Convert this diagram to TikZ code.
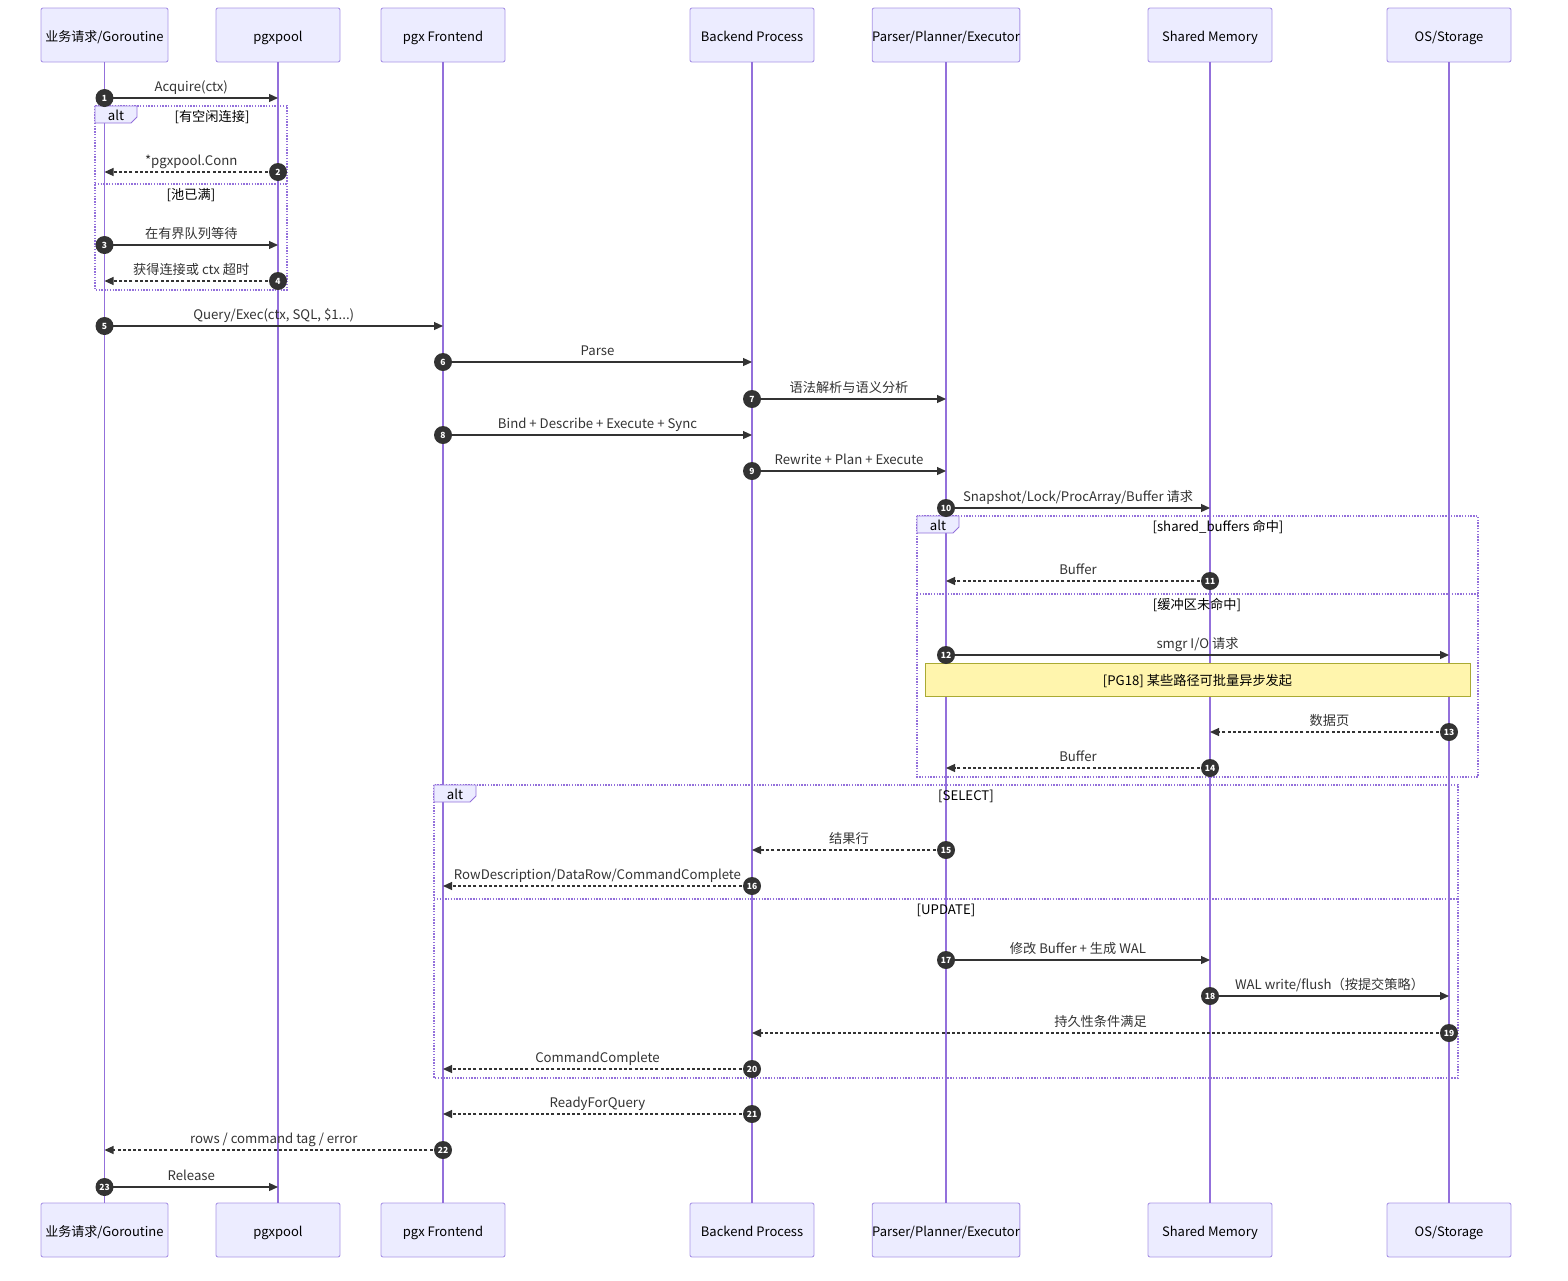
\documentclass[tikz,border=0pt]{standalone}
\usepackage{fontspec}
\setmainfont{Noto Sans CJK SC}
\usetikzlibrary{arrows.meta,calc}
\definecolor{actfill}{HTML}{ECECFF}
\definecolor{actborder}{HTML}{A995E6}
\definecolor{lifecol}{HTML}{9370DB}
\definecolor{msgcol}{HTML}{333333}
\definecolor{notefill}{HTML}{FFF5AD}
\definecolor{noteborder}{HTML}{AAAA33}
\tikzset{
  actor/.style={draw=actborder, fill=actfill, rounded corners=2pt, line width=0.9pt,
    minimum height=54pt, inner sep=0pt, font=\fontsize{13}{15}\selectfont, text=black,
    text height=15pt, text depth=1.5pt},
  life/.style={draw=lifecol, line width=1.3pt},
  msg/.style={draw=msgcol, line width=1.2pt, -{Triangle[length=9pt,width=8pt]}},
  dsh/.style={dash pattern=on 3pt off 2.2pt},
  sld/.style={},
  lbl/.style={font=\fontsize{13.2}{15}\selectfont, text=msgcol, inner sep=0pt, text height=12pt, text depth=2pt},
  seclbl/.style={font=\fontsize{13.2}{15}\selectfont, text=black, inner sep=0pt, text height=12pt, text depth=2pt},
  num/.style={circle, fill=msgcol, text=white, font=\fontsize{8.5}{9}\selectfont\bfseries, minimum size=18pt, inner sep=0pt},
  frame/.style={draw=lifecol, line width=1.2pt, dash pattern=on 1.4pt off 1.4pt},
  tab/.style={draw=lifecol, fill=actfill, line width=0.8pt},
  note/.style={draw=noteborder, fill=notefill, line width=0.8pt, minimum width=545pt, minimum height=33pt,
    inner sep=0pt, font=\fontsize{13.2}{15}\selectfont, text=black, text height=13pt, text depth=1.5pt},
}
\newcommand\msgline[6]{%
  \coordinate (s#5) at (#1 |- 0,#3);
  \coordinate (e#5) at (#2 |- 0,#3);
  \draw[msg,#6] (s#5) -- (e#5) node[lbl,midway,yshift=12pt] (l#5) {#4};
  \node[num] (n#5) at (s#5) {#5};
}
\begin{document}
\begin{tikzpicture}[x=1pt,y=-1pt]
\useasboundingbox (0,0) rectangle (1568,1280);
% actors top
\node[actor, minimum width=127pt] (a1) at (104.5,35) {业务请求/Goroutine};
\node[actor, minimum width=124pt] (a2) at (278,35) {pgxpool};
\node[actor, minimum width=124pt] (a3) at (443,35) {pgx Frontend};
\node[actor, minimum width=124pt] (a4) at (752,35) {Backend Process};
\node[actor, minimum width=146pt] (a5) at (946,35) {Parser/Planner/Executor};
\node[actor, minimum width=124pt] (a6) at (1210,35) {Shared Memory};
\node[actor, minimum width=124pt] (a7) at (1449,35) {OS/Storage};
% actors bottom
\node[actor, minimum width=127pt] (b1) at (104.5,1230) {业务请求/Goroutine};
\node[actor, minimum width=124pt] (b2) at (278,1230) {pgxpool};
\node[actor, minimum width=124pt] (b3) at (443,1230) {pgx Frontend};
\node[actor, minimum width=124pt] (b4) at (752,1230) {Backend Process};
\node[actor, minimum width=146pt] (b5) at (946,1230) {Parser/Planner/Executor};
\node[actor, minimum width=124pt] (b6) at (1210,1230) {Shared Memory};
\node[actor, minimum width=124pt] (b7) at (1449,1230) {OS/Storage};
% lifelines
\foreach \i in {1,...,7} { \draw[life] (a\i.south) -- (b\i.north); }
% alt frame 1
\draw[frame] (95,106) rectangle (287,290);
\draw[frame] (95,184) -- (287,184);
\draw[tab] (95,106) -- (137,106) -- (137,117) -- (131,123) -- (95,123) -- cycle;
\node[seclbl] (t1) at (116,115) {alt};
\node[seclbl] (c1a) at (212,116) {[有空闲连接]};
\node[seclbl] (c1b) at (191,194) {[池已满]};
% alt frame 2
\draw[frame] (917,516) rectangle (1478,777);
\draw[frame] (917,594) -- (1478,594);
\draw[tab] (917,516) -- (959,516) -- (959,527) -- (953,533) -- (917,533) -- cycle;
\node[seclbl] (t2) at (938,525) {alt};
\node[seclbl] (c2a) at (1218,526) {[shared\_buffers 命中]};
\node[seclbl] (c2b) at (1197,604) {[缓冲区未命中]};
% alt frame 3
\draw[frame] (434,785) rectangle (1458,1078);
\draw[frame] (434,899) -- (1458,899);
\draw[tab] (434,785) -- (476,785) -- (476,796) -- (470,802) -- (434,802) -- cycle;
\node[seclbl] (t3) at (455,794) {alt};
\node[seclbl] (c3a) at (966,795) {[SELECT]};
\node[seclbl] (c3b) at (946,909) {[UPDATE]};
% note
\node[note] (note1) at (1197.5,679.5) {[PG18] 某些路径可批量异步发起};
% messages
\msgline{a1}{a2}{98}{Acquire(ctx)}{1}{sld}
\msgline{a2}{a1}{172}{*pgxpool.Conn}{2}{dsh}
\msgline{a1}{a2}{245}{在有界队列等待}{3}{sld}
\msgline{a2}{a1}{281}{获得连接或 ctx 超时}{4}{dsh}
\msgline{a1}{a3}{326}{Query/Exec(ctx, SQL, \$1...)}{5}{sld}
\msgline{a3}{a4}{362}{Parse}{6}{sld}
\msgline{a4}{a5}{399}{语法解析与语义分析}{7}{sld}
\msgline{a3}{a4}{435}{Bind + Describe + Execute + Sync}{8}{sld}
\msgline{a4}{a5}{471}{Rewrite + Plan + Execute}{9}{sld}
\msgline{a5}{a6}{508}{Snapshot/Lock/ProcArray/Buffer 请求}{10}{sld}
\msgline{a6}{a5}{581}{Buffer}{11}{dsh}
\msgline{a5}{a7}{655}{smgr I/O 请求}{12}{sld}
\msgline{a7}{a6}{732}{数据页}{13}{dsh}
\msgline{a6}{a5}{768}{Buffer}{14}{dsh}
\msgline{a5}{a4}{850}{结果行}{15}{dsh}
\msgline{a4}{a3}{886}{RowDescription/DataRow/CommandComplete}{16}{dsh}
\msgline{a5}{a6}{960}{修改 Buffer + 生成 WAL}{17}{sld}
\msgline{a6}{a7}{996}{WAL write/flush（按提交策略）}{18}{sld}
\msgline{a7}{a4}{1033}{持久性条件满足}{19}{dsh}
\msgline{a4}{a3}{1069}{CommandComplete}{20}{dsh}
\msgline{a4}{a3}{1114}{ReadyForQuery}{21}{dsh}
\msgline{a3}{a1}{1150}{rows / command tag / error}{22}{dsh}
\msgline{a1}{a2}{1187}{Release}{23}{sld}
\end{tikzpicture}
\end{document}
